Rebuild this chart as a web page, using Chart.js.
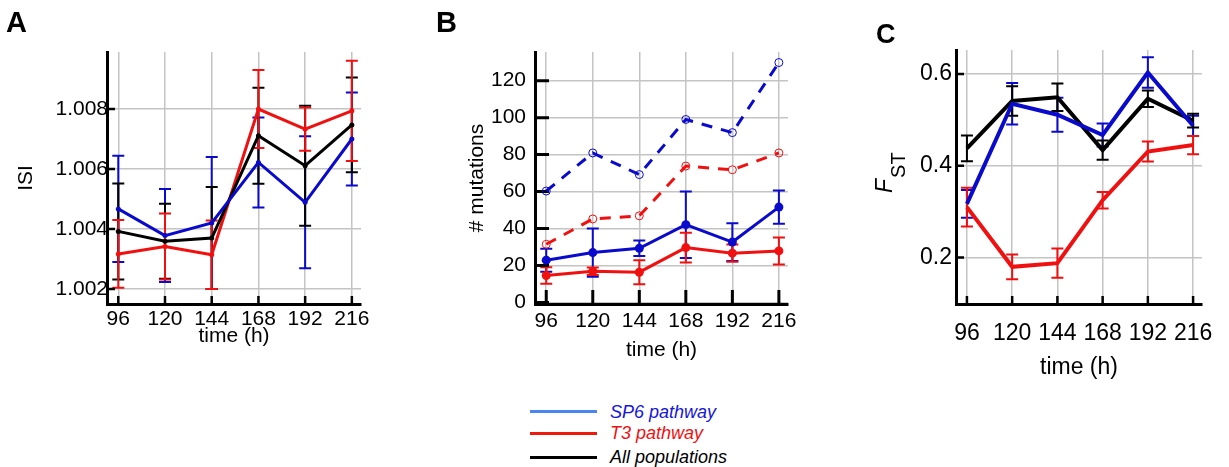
<!DOCTYPE html>
<html>
<head>
<meta charset="utf-8">
<script src="https://cdn.jsdelivr.net/npm/chart.js@4.4.1/dist/chart.umd.min.js"></script>
<style>
  body { margin: 0; background: #fff; width: 1229px; height: 467px; position: relative; overflow: hidden; }
  .panel { position: absolute; top: 0; }
  .leg-line { position: absolute; left: 530px; width: 67px; height: 3px; }
  .leg-text { position: absolute; left: 610px; font: italic 18px "Liberation Sans", Arial, sans-serif; line-height: 20px; white-space: nowrap; }
</style>
</head>
<body>

<div class="panel" style="left:0px"><canvas id="chartA" width="390" height="350"></canvas></div>
<div class="panel" style="left:420px"><canvas id="chartB" width="400" height="370"></canvas></div>
<div class="panel" style="left:860px"><canvas id="chartC" width="369" height="390"></canvas></div>

<div class="leg-line" style="top:410px;background:#4a86f0"></div>
<div class="leg-line" style="top:432px;background:#f01a0a"></div>
<div class="leg-line" style="top:456px;background:#000"></div>
<div class="leg-text" style="top:402px;color:#1515e0">SP6 pathway</div>
<div class="leg-text" style="top:423px;color:#f01010">T3 pathway</div>
<div class="leg-text" style="top:447px;color:#000">All populations</div>

<script>
const FONT = "'Liberation Sans', Arial, sans-serif";
const BLUE = "#0a0acc";
const RED = "#f01010";
const BLACK = "#000000";

/* ======================================
   DATA
====================================== */
const hours = [96, 120, 144, 168, 192, 216];

// A: ISI
const isiTicks = [1.002, 1.004, 1.006, 1.008];
const isiSP6 = [1.00467, 1.00378, 1.0042, 1.00622, 1.00489, 1.0070];
const isiSP6Err = [0.00177, 0.00155, 0.0022, 0.0015, 0.0022, 0.00155];
const isiT3 = [1.00317, 1.00342, 1.00314, 1.0080, 1.00733, 1.00794];
const isiT3Err = [0.00113, 0.0011, 0.00114, 0.0013, 0.00072, 0.00167];
const isiAll = [1.00392, 1.00359, 1.0037, 1.00711, 1.00611, 1.00747];
const isiAllErr = [0.0016, 0.00125, 0.0017, 0.0016, 0.002, 0.00158];

// B: # mutations
const mutTicks = [0, 20, 40, 60, 80, 100, 120];
const mutSP6 = [22.9, 27.0, 29.3, 42.1, 32.7, 51.6];
const mutSP6Err = [6.2, 13, 4.2, 18, 10.2, 9];
const mutT3 = [14.6, 16.9, 16.4, 29.7, 26.7, 27.9];
const mutT3Err = [4.5, 2, 6.5, 8, 4.7, 7.3];
const totSP6 = [60.3, 80.9, 69.2, 99.0, 91.9, 129.8];
const totT3 = [31.5, 45.2, 46.9, 73.8, 71.8, 80.9];

// C: FST
const fstTicks = [0.2, 0.4, 0.6];
const fstSP6 = [0.317, 0.535, 0.511, 0.467, 0.603, 0.487];
const fstSP6Err = [0.03, 0.045, 0.037, 0.025, 0.033, 0.022];
const fstT3 = [0.310, 0.180, 0.188, 0.325, 0.431, 0.445];
const fstT3Err = [0.042, 0.027, 0.032, 0.018, 0.022, 0.02];
const fstAll = [0.438, 0.541, 0.549, 0.434, 0.546, 0.498];
const fstAllErr = [0.028, 0.032, 0.03, 0.021, 0.018, 0.015];


/* ======================================
   HELPERS
====================================== */
function pts(values) {
  return values.map((v, i) => ({ x: hours[i], y: v }));
}

function fixTicks(list) {
  return scale => { scale.ticks = list.map(v => ({ value: v })); };
}


/* ======================================
   PLUGINS
====================================== */
const errorBars = {
  id: "errorBars",
  beforeDatasetsDraw(chart, args, opts) {
    const { ctx, scales } = chart;
    const cap = opts.cap || 6;
    chart.data.datasets.forEach(ds => {
      if (!ds.errors) return;
      ctx.save();
      ctx.strokeStyle = ds.borderColor;
      ctx.lineWidth = opts.width || 2;
      ctx.beginPath();
      ds.data.forEach((p, i) => {
        const e = ds.errors[i];
        const px = scales.x.getPixelForValue(p.x);
        const top = scales.y.getPixelForValue(p.y + e);
        const bot = scales.y.getPixelForValue(p.y - e);
        ctx.moveTo(px, top); ctx.lineTo(px, bot);
        ctx.moveTo(px - cap, top); ctx.lineTo(px + cap, top);
        ctx.moveTo(px - cap, bot); ctx.lineTo(px + cap, bot);
      });
      ctx.stroke();
      ctx.restore();
    });
  }
};

const innerTicks = {
  id: "innerTicks",
  beforeDatasetsDraw(chart, args, opts) {
    const { ctx, chartArea, scales } = chart;
    ctx.save();
    ctx.strokeStyle = "#000";
    ctx.lineWidth = opts.width;
    ctx.beginPath();
    scales.x.ticks.forEach(t => {
      const px = scales.x.getPixelForValue(t.value);
      ctx.moveTo(px, chartArea.bottom);
      ctx.lineTo(px, chartArea.bottom - opts.len);
    });
    scales.y.ticks.forEach(t => {
      const py = scales.y.getPixelForValue(t.value);
      ctx.moveTo(chartArea.left, py);
      ctx.lineTo(chartArea.left + opts.len, py);
    });
    ctx.stroke();
    ctx.restore();
  }
};

const panelLabel = {
  id: "panelLabel",
  afterDraw(chart, args, opts) {
    const ctx = chart.ctx;
    ctx.save();
    ctx.fillStyle = "#000";
    ctx.font = "bold " + opts.size + "px " + FONT;
    ctx.textBaseline = "alphabetic";
    ctx.fillText(opts.text, opts.x, opts.y);
    if (opts.fst) {
      // F_ST axis title
      ctx.translate(opts.fst.x, opts.fst.y);
      ctx.rotate(-Math.PI / 2);
      ctx.font = "italic 23px " + FONT;
      ctx.fillText("F", 0, 0);
      const w = ctx.measureText("F").width;
      ctx.font = "20px " + FONT;
      ctx.fillText("ST", w + 1, 13);
    }
    ctx.restore();
  }
};

Chart.register(errorBars, innerTicks, panelLabel);


/* ======================================
   COMMON OPTIONS
====================================== */
function makeOptions(cfg) {
  const f = { family: FONT, size: cfg.fontSize };
  return {
    responsive: false,
    animation: false,
    layout: { padding: { top: cfg.top, right: cfg.right, left: 0, bottom: 0 } },
    plugins: {
      legend: { display: false },
      tooltip: { enabled: false },
      errorBars: { width: 2, cap: 6 },
      innerTicks: { len: cfg.tickLen, width: cfg.tickWidth },
      panelLabel: cfg.label
    },
    scales: {
      x: {
        type: "linear",
        min: 90.2,
        max: 220.7,
        afterBuildTicks: fixTicks(hours),
        afterFit: s => { s.height = cfg.xHeight; },
        grid: { color: "#c4c4c4", lineWidth: 1.5, drawTicks: false },
        border: { display: true, color: "#000", width: 3 },
        ticks: { color: "#000", font: f, padding: cfg.xPad, maxRotation: 0 },
        title: {
          display: true, text: "time (h)", color: "#000",
          font: f, padding: { bottom: cfg.xTitlePad, top: 0 }
        }
      },
      y: {
        min: cfg.yMin,
        max: cfg.yMax,
        afterBuildTicks: fixTicks(cfg.yTicks),
        afterFit: s => { s.width = cfg.yWidth; },
        grid: { color: "#c4c4c4", lineWidth: 1.5, drawTicks: false },
        border: { display: true, color: "#000", width: 3 },
        ticks: { color: "#000", font: f, padding: cfg.yPad, callback: cfg.fmt },
        title: {
          display: !!cfg.yTitle, text: cfg.yTitle || "", color: "#000",
          font: f, padding: { top: cfg.yTitlePad, bottom: 0 }
        }
      }
    }
  };
}

function lineSet(values, errors, color, width, radius) {
  return {
    data: pts(values),
    errors: errors,
    borderColor: color,
    backgroundColor: color,
    borderWidth: width,
    pointRadius: radius,
    pointBackgroundColor: color,
    pointBorderWidth: 0,
    tension: 0
  };
}


/* ======================================
   PANEL A
====================================== */
new Chart(document.getElementById("chartA"), {
  type: "line",
  data: {
    datasets: [
      lineSet(isiSP6, isiSP6Err, BLUE, 3, 2.5),
      lineSet(isiAll, isiAllErr, BLACK, 3, 2.5),
      lineSet(isiT3, isiT3Err, RED, 3, 2.5)
    ]
  },
  options: makeOptions({
    fontSize: 21, top: 52, right: 29, xHeight: 46, yWidth: 107,
    xPad: 3, yPad: -1, xTitlePad: 1.4, yTitlePad: 14,
    tickLen: 8, tickWidth: 2.5,
    yMin: 1.0015, yMax: 1.0099, yTicks: isiTicks,
    fmt: v => v.toFixed(3), yTitle: "ISI",
    label: { text: "A", x: 6, y: 32, size: 29 }
  })
});


/* ======================================
   PANEL B
====================================== */
const dashedSP6 = lineSet(totSP6, null, BLUE, 3, 4);
dashedSP6.borderDash = [11, 9];
dashedSP6.pointBackgroundColor = "rgba(0,0,0,0)";
dashedSP6.pointBorderColor = BLUE;
dashedSP6.pointBorderWidth = 1;

const dashedT3 = lineSet(totT3, null, RED, 3, 4);
dashedT3.borderDash = [11, 9];
dashedT3.pointBackgroundColor = "rgba(0,0,0,0)";
dashedT3.pointBorderColor = RED;
dashedT3.pointBorderWidth = 1;

new Chart(document.getElementById("chartB"), {
  type: "line",
  data: {
    datasets: [
      lineSet(mutSP6, mutSP6Err, BLUE, 3, 4.5),
      lineSet(mutT3, mutT3Err, RED, 3, 4.5),
      dashedSP6,
      dashedT3
    ]
  },
  options: makeOptions({
    fontSize: 21, top: 52, right: 32, xHeight: 66, yWidth: 115,
    xPad: 5, yPad: 9, xTitlePad: 7.4, yTitlePad: 45,
    tickLen: 14, tickWidth: 3,
    yMin: -0.8, yMax: 135.5, yTicks: mutTicks,
    fmt: v => String(v), yTitle: "# mutations",
    label: { text: "B", x: 16, y: 32, size: 29 }
  })
});


/* ======================================
   PANEL C
====================================== */
new Chart(document.getElementById("chartC"), {
  type: "line",
  data: {
    datasets: [
      lineSet(fstSP6, fstSP6Err, BLUE, 4, 0),
      lineSet(fstAll, fstAllErr, BLACK, 4, 0),
      lineSet(fstT3, fstT3Err, RED, 4, 0)
    ]
  },
  options: makeOptions({
    fontSize: 23, top: 50, right: 20, xHeight: 86, yWidth: 96,
    xPad: 16, yPad: 4, xTitlePad: 8.2, yTitlePad: 0,
    tickLen: 8, tickWidth: 2.5,
    yMin: 0.099, yMax: 0.652, yTicks: fstTicks,
    fmt: v => v.toFixed(1), yTitle: null,
    label: { text: "C", x: 16, y: 43, size: 27, fst: { x: 32, y: 193 } }
  })
});
</script>
</body>
</html>
